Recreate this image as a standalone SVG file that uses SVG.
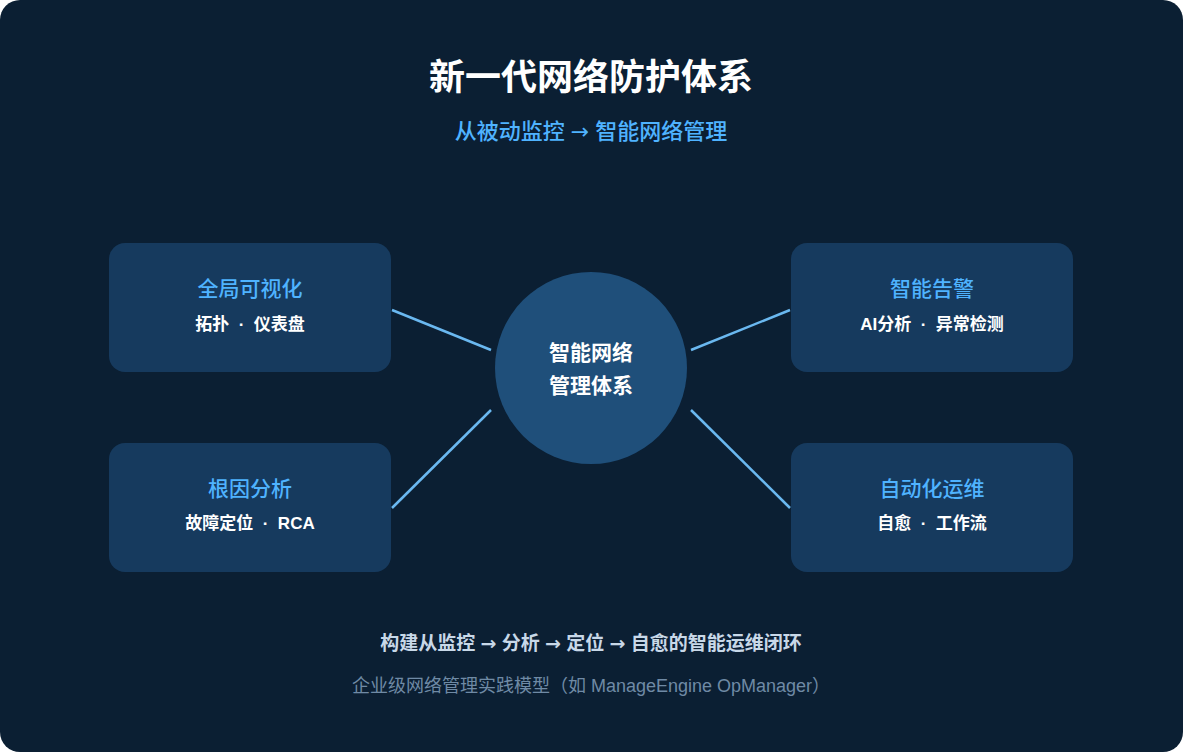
<svg xmlns="http://www.w3.org/2000/svg" width="1183" height="752" viewBox="0 0 1183 752">
<style>
text{font-family:"Liberation Sans","Noto Sans CJK SC",sans-serif;text-anchor:middle;white-space:pre}
.a{font-family:"DejaVu Sans",sans-serif}
.box{fill:#163a5e}
.t{fill:#4fb3ff;font-size:21px;font-weight:500}
.s{fill:#ffffff;font-size:17px;font-weight:700}
.c{stroke:#6ab8f0;stroke-width:2.5}
</style>
<rect width="1183" height="752" fill="#ffffff"/>
<rect width="1183" height="752" rx="20" fill="#0b1f33"/>
<text x="591" y="90" fill="#ffffff" font-size="36" font-weight="700">新一代网络防护体系</text>
<text x="591" y="139" fill="#4fb3ff" font-size="22" font-weight="500">从被动监控 <tspan class="a">→</tspan> 智能网络管理</text>
<g id="connectors">
<line class="c" x1="392" y1="310" x2="491" y2="350"/>
<line class="c" x1="392" y1="508" x2="491" y2="410"/>
<line class="c" x1="691" y1="350" x2="790" y2="310"/>
<line class="c" x1="691" y1="410" x2="790" y2="508"/>
</g>
<g id="center">
<circle cx="591" cy="368" r="96" fill="#1f4f7a"/>
<text x="591" y="360" fill="#ffffff" font-size="21" font-weight="700">智能网络</text>
<text x="591" y="393" fill="#ffffff" font-size="21" font-weight="700">管理体系</text>
</g>
<g id="n1"><rect class="box" x="109" y="243" width="282" height="129" rx="16"/>
<text class="t" x="250" y="296">全局可视化</text><text class="s" x="250" y="330">拓扑  ·  仪表盘</text></g>
<g id="n2"><rect class="box" x="109" y="443" width="282" height="129" rx="16"/>
<text class="t" x="250" y="496">根因分析</text><text class="s" x="250" y="529">故障定位  ·  RCA</text></g>
<g id="n3"><rect class="box" x="791" y="243" width="282" height="129" rx="16"/>
<text class="t" x="932" y="296">智能告警</text><text class="s" x="932" y="330">AI分析  ·  异常检测</text></g>
<g id="n4"><rect class="box" x="791" y="443" width="282" height="129" rx="16"/>
<text class="t" x="932" y="496">自动化运维</text><text class="s" x="932" y="529">自愈  ·  工作流</text></g>
<text x="591" y="650" fill="#c8d8e8" font-size="19" font-weight="700">构建从监控 <tspan class="a">→</tspan> 分析 <tspan class="a">→</tspan> 定位 <tspan class="a">→</tspan> 自愈的智能运维闭环</text>
<text x="591" y="692" fill="#6f8aa5" font-size="18">企业级网络管理实践模型（如 ManageEngine OpManager）</text>
</svg>
